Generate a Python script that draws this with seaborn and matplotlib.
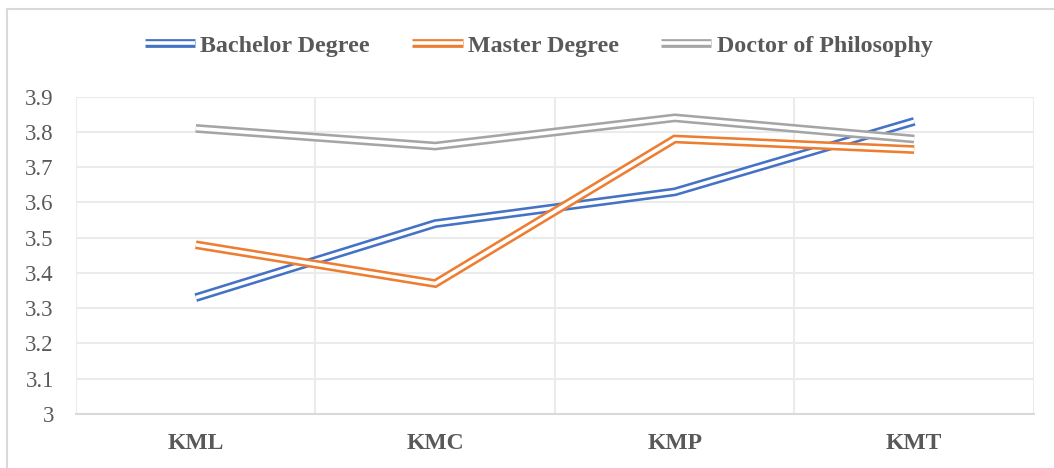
import matplotlib
matplotlib.use("Agg")
import matplotlib.pyplot as plt
import matplotlib.patheffects as pe
from matplotlib.lines import Line2D
import numpy as np
import pandas as pd
import seaborn as sns

# Mean scores per knowledge-management dimension, by education level
categories = ["KML", "KMC", "KMP", "KMT"]
bachelor = [3.33, 3.54, 3.63, 3.83]
master = [3.48, 3.37, 3.78, 3.75]
doctor = [3.81, 3.76, 3.84, 3.78]
series_names = ["Bachelor Degree", "Master Degree", "Doctor of Philosophy"]
series_colors = ["#4472C4", "#ED7D31", "#A5A5A5"]
y_ticks = [3.0, 3.1, 3.2, 3.3, 3.4, 3.5, 3.6, 3.7, 3.8, 3.9]
y_labels = ["3", "3.1", "3.2", "3.3", "3.4", "3.5", "3.6", "3.7", "3.8", "3.9"]

df = pd.DataFrame({
    "dimension": categories * 3,
    "score": bachelor + master + doctor,
    "level": np.repeat(series_names, len(categories)),
})

sns.set_theme(style="white")
plt.rcParams["font.family"] = ["Liberation Serif", "DejaVu Serif"]
text_color = "#595959"
grid_color = "#EBEBEB"
outer_w, inner_w = 6.3, 2.6


def double_stroke(color):
    return [pe.Stroke(linewidth=outer_w, foreground=color, capstyle="butt"),
            pe.Stroke(linewidth=inner_w, foreground="white", capstyle="butt")]


fig = plt.figure(figsize=(10.54, 4.68), dpi=100)
ax = fig.add_axes([0.0721, 0.1154, 0.9089, 0.678])

sns.lineplot(data=df, x="dimension", y="score", hue="level",
             hue_order=series_names, palette=series_colors,
             sort=False, linewidth=outer_w, ax=ax, legend=False)

# Double (compound) line look: coloured stroke with a white core
for line, color in zip(ax.get_lines(), series_colors):
    line.set_solid_capstyle("butt")
    line.set_solid_joinstyle("miter")
    line.set_snap(False)
    line.set_path_effects(double_stroke(color))

ax.set_xlim(-0.5, len(categories) - 0.5)
ax.set_ylim(3.0, 3.9)
ax.set_yticks(y_ticks)
ax.set_yticklabels(y_labels)
ax.set_xticks(range(len(categories)))
ax.set_xticklabels(categories, fontweight="bold")
ax.set_xticks(np.arange(-0.5, len(categories), 1.0), minor=True)
ax.grid(True, axis="y", which="major", color=grid_color, linewidth=1.5)
ax.grid(True, axis="x", which="minor", color=grid_color, linewidth=1.5)
ax.grid(False, axis="x", which="major")
ax.set_axisbelow(True)
ax.tick_params(axis="both", which="both", length=0)
ax.tick_params(axis="y", labelsize=16.5, labelcolor=text_color, pad=16)
ax.tick_params(axis="x", labelsize=17, labelcolor=text_color, pad=14)
for side in ["top", "right", "left"]:
    ax.spines[side].set_visible(False)
ax.spines["bottom"].set_color("#D9D9D9")
ax.spines["bottom"].set_linewidth(1.5)
ax.set_xlabel("")
ax.set_ylabel("")

handles = []
for name, color in zip(series_names, series_colors):
    h = Line2D([0], [0], color=color, linewidth=outer_w, label=name,
               solid_capstyle="butt")
    h.set_snap(False)
    h.set_path_effects(double_stroke(color))
    handles.append(h)
leg = fig.legend(handles=handles, loc="center", bbox_to_anchor=(0.511, 0.902),
                 ncol=3, frameon=False, handlelength=2.1, handletextpad=0.22,
                 columnspacing=1.75,
                 prop={"family": ["Liberation Serif"], "weight": "bold", "size": 17.3})
for t in leg.get_texts():
    t.set_color(text_color)

# Chart-area border along the left and top edges
fig.add_artist(Line2D([7 / 1054, 7 / 1054], [0, 1 - 9 / 468],
                      transform=fig.transFigure, color="#D9D9D9", linewidth=1.5))
fig.add_artist(Line2D([7 / 1054, 1], [1 - 9 / 468, 1 - 9 / 468],
                      transform=fig.transFigure, color="#D9D9D9", linewidth=1.5))

fig.savefig("out.png", dpi=100, facecolor="white")
